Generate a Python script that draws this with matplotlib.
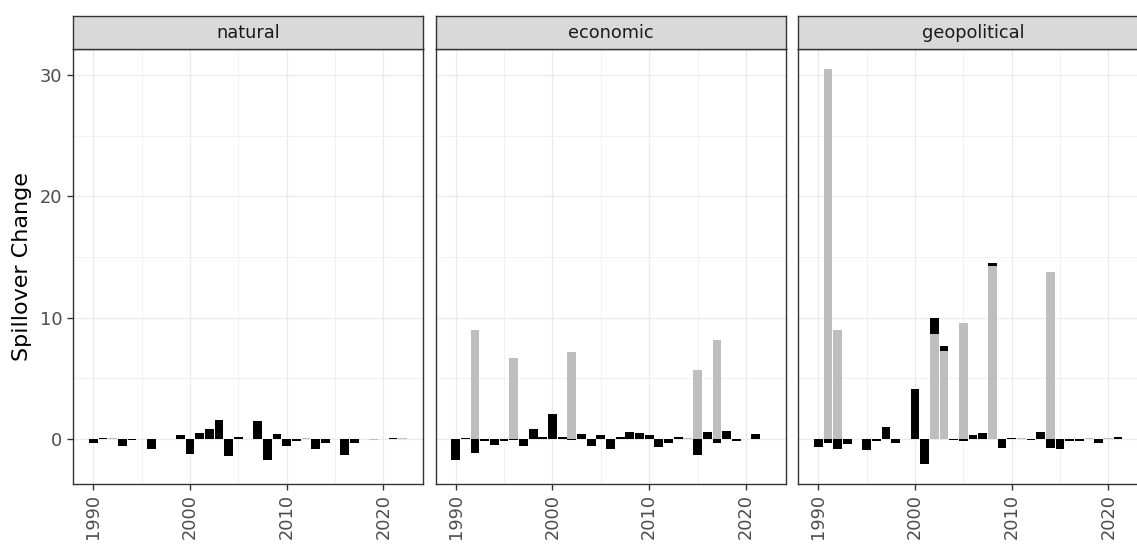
import numpy as np
import matplotlib
matplotlib.use("Agg")
import matplotlib.pyplot as plt

## data (one value per year 1990..2022)
years = np.arange(1990, 2023)
panels = ["natural", "economic", "geopolitical"]

natural_black = [-0.3, 0.1, 0, -0.6, -0.1, 0, -0.85, 0, 0, 0.35, -1.25, 0.5, 0.85,
                 1.6, -1.4, 0.2, 0, 1.45, -1.75, 0.4, -0.6, -0.15, 0, -0.8, -0.3,
                 0, -1.35, -0.35, 0, 0, 0, 0.1, 0]
natural_grey = [0, 0, 0.05, 0, 0, 0.03, 0, 0, 0.03, 0, 0, 0, 0, 0, 0, 0, 0, 0,
                0, 0, 0, 0, 0.05, 0, 0, 0.03, 0, 0, 0, -0.05, 0, 0, 0.05]

economic_black = [-1.7, 0.1, -1.15, -0.15, -0.5, -0.15, -0.05, -0.55, 0.8, 0.15,
                  2.1, 0.15, -0.1, 0.45, -0.6, 0.35, -0.8, 0.15, 0.55, 0.5, 0.3,
                  -0.65, -0.35, 0.15, 0, -1.3, 0.55, -0.35, 0.7, -0.2, 0, 0.4, 0]
economic_grey = [0, 0, 9.0, 0, 0, 0, 6.65, 0, 0, 0, 0, 0, 7.2, 0, 0, 0, 0, 0, 0,
                 0, 0, 0, 0, 0, 0.05, 5.7, 0, 8.15, 0, 0, 0, 0, 0]

geopolitical_black = [-0.65, -0.3, -0.8, -0.4, 0, -0.9, -0.2, 1.0, -0.3, 0, 4.15,
                      -2.05, 1.25, 0.45, -0.1, -0.15, 0.3, 0.5, 0.2, -0.7, 0.1, 0,
                      -0.1, 0.55, -0.7, -0.8, -0.2, -0.2, 0, -0.35, 0, 0.15, 0]
geopolitical_grey = [0, 30.5, 8.95, 0, 0, 0, 0, 0, 0, 0, 0, 0, 8.7, 7.25, 0, 9.6,
                     0, 0, 14.3, 0, 0, 0.05, 0, 0, 13.75, 0, 0, 0, 0.05, 0, 0.05, 0, 0]

series = {
    "natural": (natural_grey, natural_black),
    "economic": (economic_grey, economic_black),
    "geopolitical": (geopolitical_grey, geopolitical_black),
}

W, H = 1137, 545
fig = plt.figure(figsize=(W / 100, H / 100), dpi=100)

grid_col = "#EBEBEB"
border_col = "#333333"
tick_col = "#4D4D4D"

lefts = [73, 435.5, 798]
pw = 350
top_px, bot_px = 49.3, 483.7
strip_top = 15.7

for i, name in enumerate(panels):
    ax = fig.add_axes([lefts[i] / W, 1 - bot_px / H, pw / W, (bot_px - top_px) / H])
    grey, black = (np.array(s, dtype=float) for s in series[name])

    # ggplot-like stacking: grey first, black on top; negatives stack downward
    pos = np.zeros(len(years))
    neg = np.zeros(len(years))
    for vals, col in [(grey, "#BEBEBE"), (black, "black")]:
        base = np.where(vals >= 0, pos, neg)
        ax.bar(years, vals, width=0.9, bottom=base, color=col, linewidth=0, zorder=3)
        pos = pos + np.where(vals >= 0, vals, 0)
        neg = neg + np.where(vals < 0, vals, 0)

    ax.set_xlim(1987.9, 2024.1)
    ax.set_ylim(-3.68, 32.13)
    ax.set_xticks([1990, 2000, 2010, 2020])
    ax.set_xticks([1995, 2005, 2015], minor=True)
    ax.set_yticks([0, 10, 20, 30])
    ax.set_yticks([5, 15, 25], minor=True)
    ax.grid(which="major", color=grid_col, linewidth=1.0, zorder=0)
    ax.grid(which="minor", color=grid_col, linewidth=0.5, zorder=0)
    ax.set_axisbelow(True)
    for sp in ax.spines.values():
        sp.set_color(border_col)
        sp.set_linewidth(1.0)
        sp.set_zorder(5)
    ax.tick_params(which="major", length=4, width=1.0, color=border_col,
                   labelsize=12.8, labelcolor=tick_col)
    ax.tick_params(which="minor", length=0)
    ax.tick_params(axis="x", labelrotation=90)
    if i == 0:
        ax.set_ylabel("Spillover Change", fontsize=16, color="black", labelpad=6)
    else:
        ax.tick_params(axis="y", left=False, labelleft=False)

    # facet strip
    sax = fig.add_axes([lefts[i] / W, 1 - top_px / H, pw / W, (top_px - strip_top) / H])
    sax.set_facecolor("#D9D9D9")
    sax.set_xticks([])
    sax.set_yticks([])
    for sp in sax.spines.values():
        sp.set_color(border_col)
        sp.set_linewidth(1.0)
    sax.text(0.5, 0.5, name, ha="center", va="center", fontsize=12.8,
             color="#1A1A1A", transform=sax.transAxes)

plt.savefig("out.png", dpi=100)
